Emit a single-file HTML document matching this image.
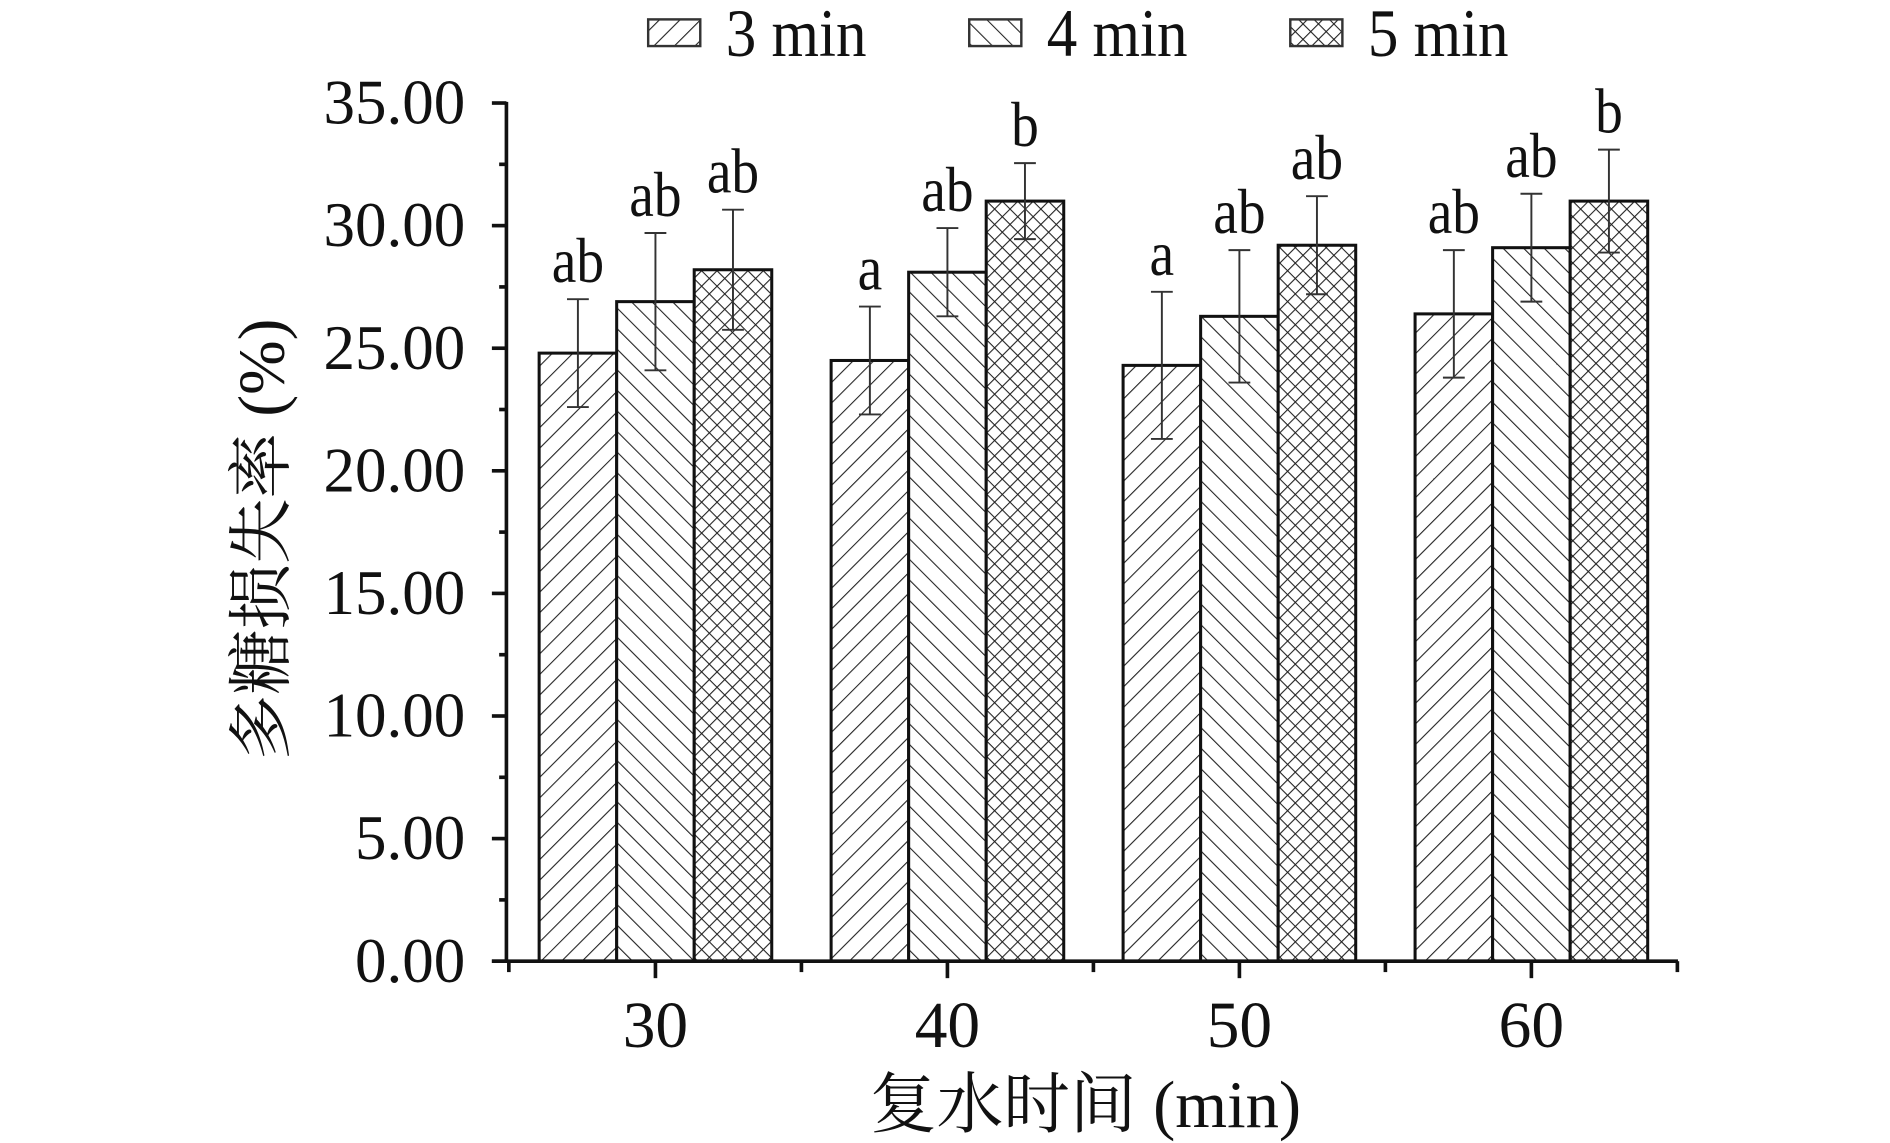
<!DOCTYPE html>
<html><head><meta charset="utf-8"><style>
html,body{margin:0;padding:0;background:#fff;}
svg{display:block;}
text{font-family:"Liberation Serif","Noto Serif CJK SC","Noto Sans CJK SC",serif;fill:#111;}
</style></head><body>
<svg id="chart" width="1890" height="1143" viewBox="0 0 1560 943" preserveAspectRatio="none" xmlns="http://www.w3.org/2000/svg">
<defs>
<pattern id="p3" patternUnits="userSpaceOnUse" width="12" height="12" patternTransform="rotate(45)"><line x1="0" y1="0" x2="0" y2="12" stroke="#222" stroke-width="1.8"/></pattern>
<pattern id="p4" patternUnits="userSpaceOnUse" width="12" height="12" patternTransform="rotate(-45)"><line x1="0" y1="0" x2="0" y2="12" stroke="#222" stroke-width="1.8"/></pattern>
<pattern id="p5" patternUnits="userSpaceOnUse" width="9" height="9" patternTransform="rotate(45)"><line x1="0" y1="0" x2="0" y2="9" stroke="#222" stroke-width="1.8"/><line x1="0" y1="0" x2="9" y2="0" stroke="#222" stroke-width="1.8"/></pattern>
</defs>
<g id="legend"></g>
<g id="bars"></g>
<g id="axes"></g>
<text transform="translate(234,445) rotate(-90)" text-anchor="middle" font-size="54">多糖损失率 (%)</text>
<text x="896" y="930" text-anchor="middle" font-size="55">复水时间 (min)</text>
</svg>
<script>
const categories = ["30","40","50","60"];
const series = ["3 min","4 min","5 min"];
const values3 = [24.8, 24.5, 24.3, 26.4];
const values4 = [26.9, 28.1, 26.3, 29.1];
const values5 = [28.2, 31.0, 29.2, 31.0];
const err3 = [2.2, 2.2, 3.0, 2.6];
const err4 = [2.8, 1.8, 2.7, 2.2];
const err5 = [2.45, 1.55, 2.0, 2.1];
const sig3 = ["ab","a","a","ab"];
const sig4 = ["ab","ab","ab","ab"];
const sig5 = ["ab","b","ab","b"];
const yTicks = [0,5,10,15,20,25,30,35];
const yTickLabels = ["0.00","5.00","10.00","15.00","20.00","25.00","30.00","35.00"];

const NS="http://www.w3.org/2000/svg";
const X0=418, Y0=793, YMAX=35, PLOT_H=708, GROUP_W=241, FIRST=541, BW=64;
const yS = v => Y0 - v/YMAX*PLOT_H;
const xS = i => FIRST + i*GROUP_W;
function mk(tag, attrs, parent, txt){
  const e=document.createElementNS(NS,tag);
  for(const k in attrs) e.setAttribute(k,attrs[k]);
  if(txt!==undefined) e.textContent=txt;
  parent.appendChild(e); return e;
}
const bars=document.getElementById('bars');
const axes=document.getElementById('axes');
const legend=document.getElementById('legend');
const vals=[values3,values4,values5], errs=[err3,err4,err5], sigs=[sig3,sig4,sig5];
const pats=["url(#p3)","url(#p4)","url(#p5)"];
categories.forEach((c,i)=>{
  for(let s=0;s<3;s++){
    const cx=xS(i)+(s-1)*BW, v=vals[s][i], e=errs[s][i];
    mk('rect',{x:cx-BW/2,y:yS(v),width:BW,height:Y0-yS(v),fill:'#fff'},bars);
    const r2=mk('rect',{x:cx-BW/2,y:yS(v),width:BW,height:Y0-yS(v),fill:pats[s],stroke:'#111','stroke-width':2.5},bars);
    
    
    const g=mk('g',{stroke:'#333','stroke-width':1.6},bars);
    
    
    mk('line',{x1:cx,x2:cx,y1:yS(v+e),y2:yS(v-e)},g);
    mk('line',{x1:cx-9,x2:cx+9,y1:yS(v+e),y2:yS(v+e)},g);
    mk('line',{x1:cx-9,x2:cx+9,y1:yS(v-e),y2:yS(v-e)},g);
    const t=mk('text',{'text-anchor':'middle','font-size':52,transform:'translate('+cx+','+(yS(v+e)-14)+') scale(0.88,1)'},bars,sigs[s][i]);
    
    
  }
  const tl=mk('text',{x:xS(i),y:864,'text-anchor':'middle','font-size':54},axes,c);
  
  
  mk('line',{x1:xS(i),x2:xS(i),y1:Y0,y2:Y0+14,stroke:'#111','stroke-width':3},axes);
  mk('line',{x1:xS(i)+GROUP_W/2,x2:xS(i)+GROUP_W/2,y1:Y0,y2:Y0+9,stroke:'#111','stroke-width':3},axes);
});
mk('line',{x1:X0,x2:X0,y1:Y0+1,y2:yS(YMAX)-1,stroke:'#111','stroke-width':3},axes);
mk('line',{x1:406,x2:1385,y1:Y0,y2:Y0,stroke:'#111','stroke-width':3},axes);
mk('line',{x1:X0+2,x2:X0+2,y1:Y0,y2:Y0+9,stroke:'#111','stroke-width':3},axes);
yTicks.forEach((v,k)=>{
  mk('line',{x1:X0-12,x2:X0,y1:yS(v),y2:yS(v),stroke:'#111','stroke-width':3},axes);
  if(k<yTicks.length-1) mk('line',{x1:X0-6,x2:X0,y1:yS(v+2.5),y2:yS(v+2.5),stroke:'#111','stroke-width':3},axes);
  const t=mk('text',{x:384,y:yS(v)+17,'text-anchor':'end','font-size':52},axes,yTickLabels[k]);
  
  
});
const legX=[535,800,1065];
series.forEach((s,k)=>{
  mk('rect',{x:legX[k],y:16,width:43,height:22,fill:'#fff'},legend);
  const b=mk('rect',{x:legX[k],y:16,width:43,height:22,fill:pats[k],stroke:'#333','stroke-width':2},legend);
  
  
  const t=mk('text',{'font-size':56,transform:'translate('+(legX[k]+64)+',46) scale(0.9,1)'},legend,s);
  
  
});
</script>
</body></html>
